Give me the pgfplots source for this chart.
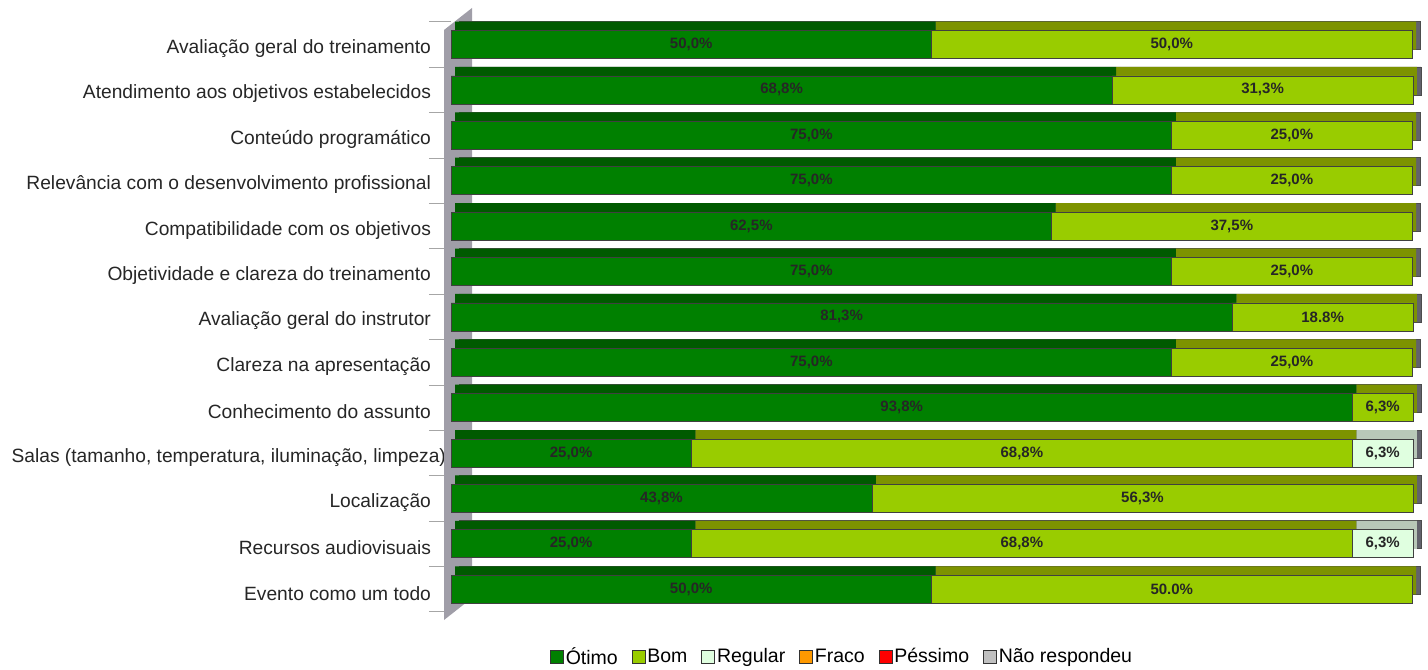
\documentclass[border=0pt]{standalone}
\usepackage{pgfplots}
\pgfplotsset{compat=1.18}
\usepackage{pgfplotstable}
\usepackage{fontspec}
\setmainfont{Liberation Sans}

\definecolor{otimo}{HTML}{008000}
\definecolor{otimotop}{HTML}{005A00}
\definecolor{bom}{HTML}{99CC00}
\definecolor{bomtop}{HTML}{7D9300}
\definecolor{regular}{HTML}{E0FFE0}
\definecolor{regulartop}{HTML}{B8C8B8}
\definecolor{fraco}{HTML}{FF9900}
\definecolor{pessimo}{HTML}{FF0000}
\definecolor{naoresp}{HTML}{C0C0C0}
\definecolor{wall}{HTML}{A09EA8}
\definecolor{side}{HTML}{62626C}

\pgfplotstableread{
y otimo bom regular
0 50.0 50.0 0
1 68.8 31.3 0
2 75.0 25.0 0
3 75.0 25.0 0
4 62.5 37.5 0
5 75.0 25.0 0
6 81.3 18.8 0
7 75.0 25.0 0
8 93.8 6.3 0
9 25.0 68.8 6.3
10 43.8 56.3 0
11 25.0 68.8 6.3
12 50.0 50.0 0
}\databars

\pgfplotstableread{
x y lab
25 0 50,0
75 0 50,0
34.4 1 68,8
84.45 1 31,3
37.5 2 75,0
87.5 2 25,0
37.5 3 75,0
87.5 3 25,0
31.25 4 62,5
81.25 4 37,5
37.5 5 75,0
87.5 5 25,0
40.65 6 81,3
90.7 6 18.8
37.5 7 75,0
87.5 7 25,0
46.9 8 93,8
96.95 8 6,3
12.5 9 25,0
59.4 9 68,8
96.95 9 6,3
21.9 10 43,8
71.95 10 56,3
12.5 11 25,0
59.4 11 68,8
96.95 11 6,3
25 12 50,0
75 12 50.0
}\datalabels

\pgfplotsset{
  common/.style={
    scale only axis, width=480.5pt, height=308.7pt,
    xmin=0, xmax=100, ymin=-0.8, ymax=12.8, y dir=reverse,
    anchor=south west, clip=false,
  },
  barax/.style={common, hide axis, xbar stacked, bar width=14pt},
}

\begin{document}
\begin{tikzpicture}
\useasboundingbox (0,0) rectangle (714pt,334.5pt);

% category labels and tick marks
\begin{axis}[common, at={(225.5pt,21.7pt)},
  axis x line=none, axis y line*=left, y axis line style={draw=none},
  ytick={0,1,...,12},
  yticklabels={Avaliação geral do treinamento, Atendimento aos objetivos estabelecidos, Conteúdo programático, Relevância com o desenvolvimento profissional, Compatibilidade com os objetivos, Objetividade e clareza do treinamento, Avaliação geral do instrutor, Clareza na apresentação, Conhecimento do assunto, {Salas (tamanho, temperatura, iluminação, limpeza)\hspace*{-7.5pt}}, Localização, Recursos audiovisuais, Evento como um todo},
  major tick length=0pt,
  tick align=outside,
  extra y ticks={-0.5,0.5,1.5,2.5,3.5,4.5,5.5,6.5,7.5,8.5,9.5,10.5,11.5,12.5},
  extra y tick labels={},
  extra y tick style={major tick length=11pt, tick style={draw=gray!70, line width=0.5pt}},
  yticklabel style={font=\fontsize{9.6}{11}\selectfont, text=black!85, xshift=-6.5pt, yshift=-2pt},
]
\addplot[draw=none] coordinates {(0,0)};
\end{axis}

% left wall
\fill[wall] (222pt,319.5pt) -- (236pt,330.5pt) -- (236pt,35.5pt) -- (222pt,24.5pt) -- cycle;

% back (right side faces)
\begin{axis}[barax, at={(229.5pt,26.2pt)}]
\addplot[fill=side, draw=black!70, line width=0.4pt] table[x=otimo, y=y] {\databars};
\addplot[fill=side, draw=black!70, line width=0.4pt] table[x=bom, y=y] {\databars};
\addplot[fill=side, draw=black!70, line width=0.4pt] table[x=regular, y=y] {\databars};
\end{axis}

% top faces
\begin{axis}[barax, at={(227.5pt,26.2pt)}]
\addplot[fill=otimotop, draw=none] table[x=otimo, y=y] {\databars};
\addplot[fill=bomtop, draw=none] table[x=bom, y=y] {\databars};
\addplot[fill=regulartop, draw=none] table[x=regular, y=y] {\databars};
\end{axis}

% front faces
\begin{axis}[barax, at={(225.5pt,21.7pt)}]
\addplot[fill=otimo, draw=black!75, line width=0.4pt] table[x=otimo, y=y] {\databars};
\addplot[fill=bom, draw=black!75, line width=0.4pt] table[x=bom, y=y] {\databars};
\addplot[fill=regular, draw=black!75, line width=0.4pt] table[x=regular, y=y] {\databars};
\end{axis}

% value labels and legend
\begin{axis}[common, hide axis, at={(225.5pt,21.7pt)},
  legend style={at={(0.407,-0.051)}, anchor=center, legend columns=-1, draw=none, fill=none,
    font=\fontsize{9.75}{11}\selectfont, /tikz/every even column/.append style={column sep=6pt},
    nodes={inner sep=1pt}},
  legend image code/.code={\draw[#1, draw=black!80, line width=0.4pt] (0pt,-3.2pt) rectangle (6.4pt,3.2pt);},
]
\addplot[draw=none, mark=none, forget plot, point meta=explicit symbolic,
  nodes near coords={\pgfplotspointmeta\%},
  every node near coord/.style={anchor=center, inner sep=0pt, font=\bfseries\fontsize{7.5}{9}\selectfont, text=black!85}]
  table[x=x, y=y, meta=lab] {\datalabels};
\addlegendimage{fill=otimo}\addlegendentry{Ótimo}
\addlegendimage{fill=bom}\addlegendentry{Bom}
\addlegendimage{fill=regular}\addlegendentry{Regular}
\addlegendimage{fill=fraco}\addlegendentry{Fraco}
\addlegendimage{fill=pessimo}\addlegendentry{Péssimo}
\addlegendimage{fill=naoresp}\addlegendentry{Não respondeu}
\end{axis}
\end{tikzpicture}
\end{document}
